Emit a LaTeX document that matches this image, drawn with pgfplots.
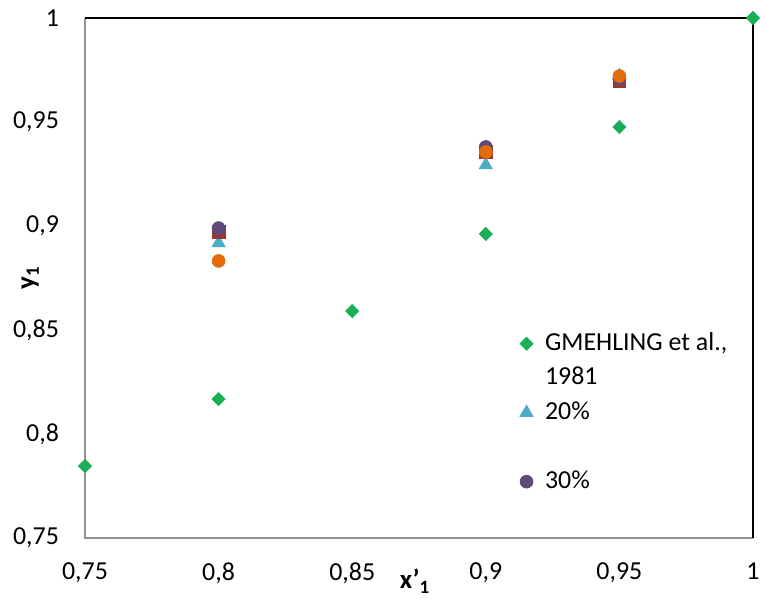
\documentclass[border=0pt]{standalone}
\usepackage{fontspec}
\setmainfont{Carlito}
\usepackage{pgfplots}
\pgfplotsset{compat=1.18}
\definecolor{cgreen}{RGB}{26,175,84}
\definecolor{ccyan}{RGB}{75,172,198}
\definecolor{cred}{RGB}{149,55,53}
\definecolor{cpurple}{RGB}{96,74,123}
\definecolor{corange}{RGB}{228,108,10}
\begin{document}
\begin{tikzpicture}
\begin{axis}[
  scale only axis, width=334bp, height=260bp,
  xmin=0.75, xmax=1, ymin=0.75, ymax=1,
  xtick={0.75,0.8,0.85,0.9,0.95,1},
  ytick={0.75,0.8,0.85,0.9,0.95,1},
  /pgf/number format/use comma,
  /pgf/number format/assume math mode=true,
  major tick length=0pt,
  axis line style={draw=none},
  clip=false,
  tick label style={font=\fontsize{13}{15.5}\selectfont},
  xticklabel style={yshift=-9bp},
  yticklabel style={xshift=-9.5bp},
  xlabel={\textbf{x'\textsubscript{1}}},
  ylabel={\textbf{y\textsubscript{1}}},
  every axis x label/.style={at={(rel axis cs:0.494,-0.083)}, anchor=center, font=\fontsize{13.5}{16}\selectfont},
  every axis y label/.style={at={(rel axis cs:-0.082,0.5)}, anchor=center, rotate=90, font=\fontsize{13.5}{16}\selectfont},
  legend style={at={(rel axis cs:0.626,0.41)}, anchor=north west, draw=none, fill=none,
    font=\fontsize{13}{15.5}\selectfont, row sep=2.75bp, column sep=4bp,
    nodes={text height=9.5bp, text depth=3bp, inner ysep=1bp}},
  legend cell align=left,
]
\draw[gray!85, line width=1.2bp] (rel axis cs:0,1) -- (rel axis cs:0,0) -- (rel axis cs:1,0);
\draw[black, line width=1bp] (rel axis cs:0,1) -- (rel axis cs:1,1) -- (rel axis cs:1,0);
\addplot[only marks, mark=square*, mark size=2.3bp, mark options={rotate=45}, color=cgreen] coordinates {
 (0.75,0.7846) (0.8,0.8168) (0.85,0.8591) (0.9,0.8962) (0.95,0.9476) (1,1)};
\addlegendentry{GMEHLING et al.,}
\addlegendimage{empty legend}
\addlegendentry[yshift=1.5bp]{1981}
\addplot[only marks, mark=triangle*, mark size=3.75bp, color=ccyan] coordinates {
 (0.8,0.8918) (0.9,0.9293) (0.95,0.9722)};
\addlegendentry{20\%}
\addlegendimage{empty legend}
\addlegendentry{~}
\addplot[only marks, mark=square*, mark size=3.2bp, color=cred, forget plot] coordinates {
 (0.8,0.8971) (0.9,0.9356) (0.95,0.9697)};
\addplot[only marks, mark=*, mark size=3.2bp, color=cpurple] coordinates {
 (0.8,0.8990) (0.9,0.9380) (0.95,0.9710)};
\addlegendentry{30\%}
\addplot[only marks, mark=*, mark size=3.2bp, color=corange, forget plot] coordinates {
 (0.8,0.8832) (0.9,0.9356) (0.95,0.9721)};
\end{axis}
\pgfresetboundingbox
\path (current axis.south west) ++(-42.5bp,-30.5bp) coordinate (bl);
\path (current axis.north east) ++(6.5bp,9bp) coordinate (tr);
\useasboundingbox (bl) rectangle (tr);
\end{tikzpicture}
\end{document}
